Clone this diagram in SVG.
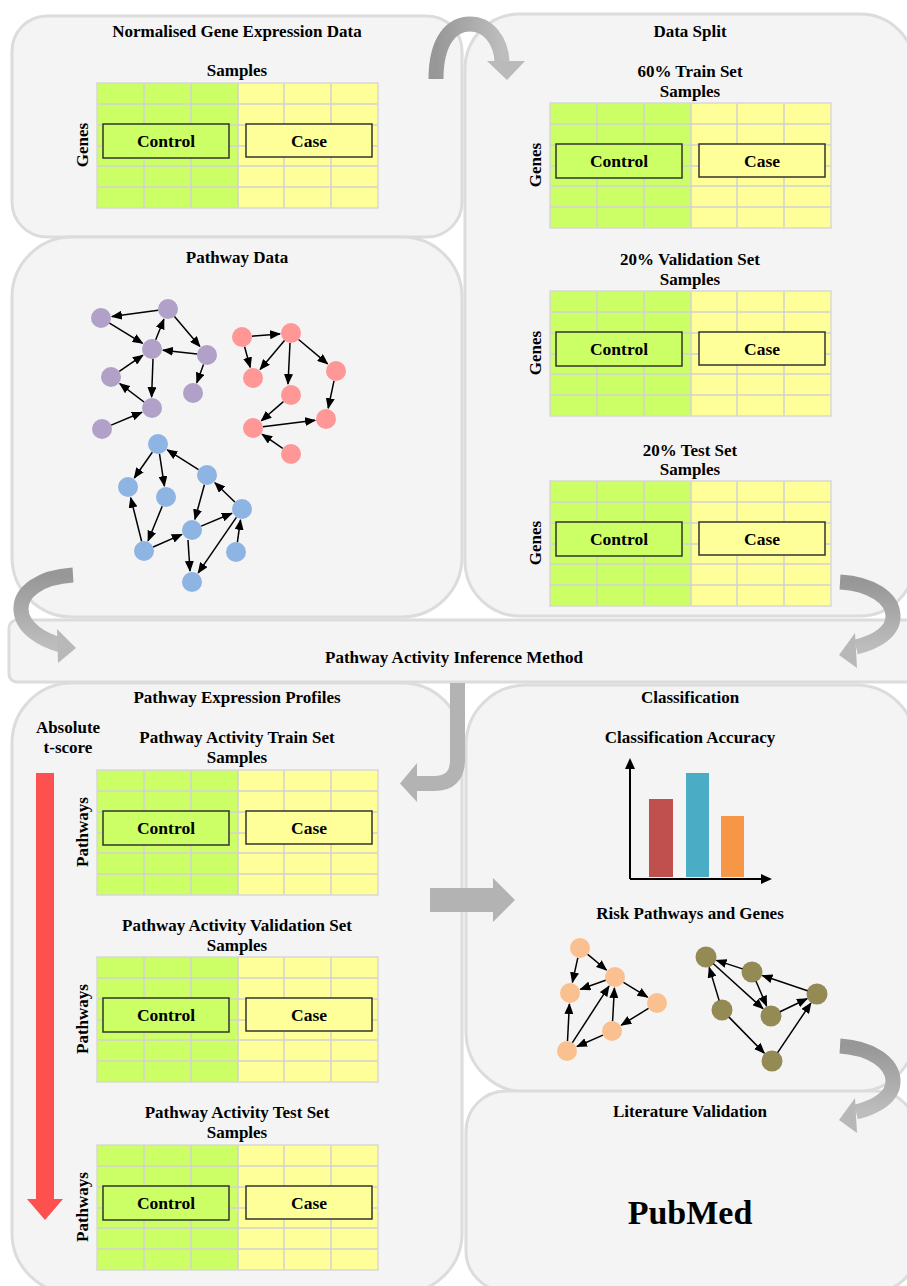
<svg xmlns="http://www.w3.org/2000/svg" xmlns:xlink="http://www.w3.org/1999/xlink" width="907" height="1286" viewBox="0 0 907 1286">
<style>
.panel{fill:#f4f4f4;stroke:#dcdcdc;stroke-width:3}
.t{font-family:"Liberation Serif",serif;font-weight:bold;font-size:17px;text-anchor:middle;fill:#000}
.b{font-family:"Liberation Serif",serif;font-weight:bold;font-size:17.5px;text-anchor:middle;fill:#000}
.e{stroke:#000;stroke-width:1.5;fill:none;marker-end:url(#ah)}
.pu{fill:#b1a0c7}.rd{fill:#ff9797}.bl{fill:#8db4e2}.or{fill:#fac090}.ol{fill:#948a54}
</style>
<defs>
<marker id="ah" markerUnits="userSpaceOnUse" markerWidth="11" markerHeight="9" refX="10" refY="4.5" orient="auto">
<path d="M0,0 L11,4.5 L0,9 z" fill="#000"/>
</marker>
<linearGradient id="gh" x1="0" y1="0" x2="1" y2="0"><stop offset="0" stop-color="#979797"/><stop offset="1" stop-color="#bdbdbd"/></linearGradient>
<linearGradient id="gv" x1="0" y1="0" x2="0" y2="1"><stop offset="0" stop-color="#979797"/><stop offset="1" stop-color="#bdbdbd"/></linearGradient>
<g id="grid">
<rect x="0" y="0" width="141" height="125" fill="#ccff66"/>
<rect x="141" y="0" width="140" height="125" fill="#ffff99"/>
<path d="M47,0V125M94,0V125M141,0V125M187,0V125M234,0V125M0,21H281M0,42H281M0,63H281M0,83H281M0,104H281" stroke="#d2d2d2" stroke-width="1.5" fill="none"/>
<rect x="0" y="0" width="281" height="125" fill="none" stroke="#d8d8d8" stroke-width="1.5"/>
<rect x="6" y="41" width="126" height="34" fill="#ccff66" stroke="#333" stroke-width="1.5"/>
<rect x="149" y="41" width="126" height="33" fill="#ffff99" stroke="#333" stroke-width="1.5"/>
</g>
</defs>
<rect width="907" height="1286" fill="#fff"/>

<g id="panel-data-split">
<rect class="panel" x="465" y="14" width="450" height="602" rx="55"/>
<text class="t" x="690" y="37">Data Split</text>
</g>
<g id="panel-normalised">
<rect class="panel" x="12" y="16" width="450" height="221" rx="35"/>
<text class="t" x="237" y="37">Normalised Gene Expression Data</text>
</g>
<g id="panel-pathway-data">
<rect class="panel" x="12" y="237" width="450" height="380" rx="60"/>
<text class="t" x="237" y="263">Pathway Data</text>
</g>
<g id="panel-inference">
<rect class="panel" x="9" y="620" width="910" height="62" rx="8"/>
<text class="t" x="454" y="663">Pathway Activity Inference Method</text>
</g>
<g id="panel-profiles">
<rect class="panel" x="12" y="683" width="450" height="610" rx="60"/>
<text class="t" x="237" y="703">Pathway Expression Profiles</text>
<text class="t" x="68" y="733">Absolute</text>
<text class="t" x="68" y="753">t-score</text>
</g>
<g id="panel-classification">
<rect class="panel" x="466" y="685" width="450" height="407" rx="60"/>
<text class="t" x="690" y="703">Classification</text>
<text class="t" x="690" y="743">Classification Accuracy</text>
<text class="t" x="690" y="919">Risk Pathways and Genes</text>
</g>
<g id="panel-literature">
<rect class="panel" x="466" y="1091" width="450" height="200" rx="40"/>
<text class="t" x="690" y="1117">Literature Validation</text>
<text x="690" y="1224" style="font-family:'Liberation Serif',serif;font-weight:bold;font-size:34px;text-anchor:middle">PubMed</text>
</g>

<g id="grid-normalised" transform="translate(97,83)">
<text class="t" x="140" y="-7">Samples</text>
<use href="#grid"/>
<text class="b" x="69" y="64">Control</text><text class="b" x="212" y="64">Case</text>
<text class="t" transform="translate(-9,62) rotate(-90)">Genes</text>
</g>
<g id="grid-train" transform="translate(550,103)">
<text class="t" x="140" y="-26">60% Train Set</text><text class="t" x="140" y="-6">Samples</text>
<use href="#grid"/>
<text class="b" x="69" y="64">Control</text><text class="b" x="212" y="64">Case</text>
<text class="t" transform="translate(-9,62) rotate(-90)">Genes</text>
</g>
<g id="grid-validation" transform="translate(550,291)">
<text class="t" x="140" y="-26">20% Validation Set</text><text class="t" x="140" y="-6">Samples</text>
<use href="#grid"/>
<text class="b" x="69" y="64">Control</text><text class="b" x="212" y="64">Case</text>
<text class="t" transform="translate(-9,62) rotate(-90)">Genes</text>
</g>
<g id="grid-test" transform="translate(550,481)">
<text class="t" x="140" y="-25">20% Test Set</text><text class="t" x="140" y="-6">Samples</text>
<use href="#grid"/>
<text class="b" x="69" y="64">Control</text><text class="b" x="212" y="64">Case</text>
<text class="t" transform="translate(-9,62) rotate(-90)">Genes</text>
</g>
<g id="grid-pa-train" transform="translate(97,770)">
<text class="t" x="140" y="-27">Pathway Activity Train Set</text><text class="t" x="140" y="-7">Samples</text>
<use href="#grid"/>
<text class="b" x="69" y="64">Control</text><text class="b" x="212" y="64">Case</text>
<text class="t" transform="translate(-9,62) rotate(-90)">Pathways</text>
</g>
<g id="grid-pa-validation" transform="translate(97,957)">
<text class="t" x="140" y="-26">Pathway Activity Validation Set</text><text class="t" x="140" y="-6">Samples</text>
<use href="#grid"/>
<text class="b" x="69" y="64">Control</text><text class="b" x="212" y="64">Case</text>
<text class="t" transform="translate(-9,62) rotate(-90)">Pathways</text>
</g>
<g id="grid-pa-test" transform="translate(97,1145)">
<text class="t" x="140" y="-27">Pathway Activity Test Set</text><text class="t" x="140" y="-7">Samples</text>
<use href="#grid"/>
<text class="b" x="69" y="64">Control</text><text class="b" x="212" y="64">Case</text>
<text class="t" transform="translate(-9,62) rotate(-90)">Pathways</text>
</g>

<g id="tscore-arrow">
<polygon points="36,773 54,773 54,1199 63,1199 45,1220 27,1199 36,1199" fill="#ff5050"/>
</g>

<g id="chart">
<rect x="649" y="799" width="24" height="78" fill="#c0504d"/>
<rect x="686" y="773" width="23" height="104" fill="#4bacc6"/>
<rect x="721" y="816" width="23" height="61" fill="#f79646"/>
<path d="M630,879 V768 M630,879 H762" stroke="#000" stroke-width="2" fill="none"/>
<polygon points="625,769 630,758 635,769" fill="#000"/>
<polygon points="761,874 772,879 761,884" fill="#000"/>
</g>

<g id="nodes-purple">
<circle class="pu" cx="101" cy="318" r="10"/><circle class="pu" cx="168" cy="309" r="10"/>
<circle class="pu" cx="152" cy="349" r="10"/><circle class="pu" cx="207" cy="355" r="10"/>
<circle class="pu" cx="111" cy="377" r="10"/><circle class="pu" cx="193" cy="393" r="10"/>
<circle class="pu" cx="152" cy="408" r="10"/><circle class="pu" cx="102" cy="429" r="10"/>
</g>
<g id="nodes-red">
<circle class="rd" cx="242" cy="337" r="10"/><circle class="rd" cx="291" cy="333" r="10"/>
<circle class="rd" cx="253" cy="378" r="10"/><circle class="rd" cx="336" cy="371" r="10"/>
<circle class="rd" cx="291" cy="395" r="10"/><circle class="rd" cx="326" cy="419" r="10"/>
<circle class="rd" cx="253" cy="428" r="10"/><circle class="rd" cx="291" cy="454" r="10"/>
</g>
<g id="nodes-blue">
<circle class="bl" cx="158" cy="444" r="10"/><circle class="bl" cx="128" cy="487" r="10"/>
<circle class="bl" cx="166" cy="497" r="10"/><circle class="bl" cx="207" cy="475" r="10"/>
<circle class="bl" cx="242" cy="509" r="10"/><circle class="bl" cx="192" cy="530" r="10"/>
<circle class="bl" cx="144" cy="551" r="10"/><circle class="bl" cx="236" cy="552" r="10"/>
<circle class="bl" cx="192" cy="582" r="10"/>
</g>
<g id="nodes-risk-orange">
<circle class="or" cx="580" cy="948" r="10"/><circle class="or" cx="570" cy="993" r="10"/>
<circle class="or" cx="615" cy="977" r="10"/><circle class="or" cx="657" cy="1003" r="10"/>
<circle class="or" cx="612" cy="1031" r="10"/><circle class="or" cx="567" cy="1051" r="10"/>
</g>
<g id="nodes-risk-olive">
<circle class="ol" cx="706" cy="957" r="10.5"/><circle class="ol" cx="752" cy="972" r="10.5"/>
<circle class="ol" cx="771" cy="1016" r="10.5"/><circle class="ol" cx="817" cy="994" r="10.5"/>
<circle class="ol" cx="722" cy="1010" r="10.5"/><circle class="ol" cx="772" cy="1061" r="10.5"/>
</g>

<g id="connectors">
<path class="e" d="M158.1,310.3L111.9,316.5"/>
<path class="e" d="M109.5,323.2L142.6,343.3"/>
<path class="e" d="M155.7,339.7L163.9,319.2"/>
<path class="e" d="M174.5,316.6L199.9,346.6"/>
<path class="e" d="M197.1,353.9L162.9,350.2"/>
<path class="e" d="M203.5,364.4L196.8,382.7"/>
<path class="e" d="M153,359L151.6,397"/>
<path class="e" d="M144,402L119.8,383.6"/>
<path class="e" d="M119.3,371.4L142.9,355.2"/>
<path class="e" d="M111.2,425.1L141.9,412.3"/>

<path class="e" d="M252,336.2L280,333.9"/>
<path class="e" d="M244.6,346.7L250.2,367.4"/>
<path class="e" d="M284.5,340.6L260.1,369.6"/>
<path class="e" d="M290,343L288,384"/>
<path class="e" d="M298.6,339.5L327.6,363.9"/>
<path class="e" d="M334,380.8L328.2,408.2"/>
<path class="e" d="M283.4,401.6L261.3,420.8"/>
<path class="e" d="M262.9,426.8L315.1,420.3"/>
<path class="e" d="M282.7,448.3L262.1,434.2"/>

<path class="e" d="M152.3,452.2L134.3,478"/>
<path class="e" d="M159.5,453.9L164.4,486.1"/>
<path class="e" d="M198.5,469.7L167.3,449.9"/>
<path class="e" d="M162.2,506.3L148.1,540.8"/>
<path class="e" d="M141.6,541.3L130.7,497.7"/>
<path class="e" d="M204.4,484.7L194.9,519.4"/>
<path class="e" d="M201.2,526.1L231.9,513.3"/>
<path class="e" d="M234.8,502L214.9,482.7"/>
<path class="e" d="M153.2,547L181.9,534.4"/>
<path class="e" d="M188,540L190,571"/>
<path class="e" d="M236.4,517.3L198.2,572.9"/>
<path class="e" d="M237.4,542.1L240.5,519.9"/>

<path class="e" d="M577.8,957.8L572.4,982.3"/>
<path class="e" d="M587.7,954.4L606.5,970"/>
<path class="e" d="M605.6,980.3L580.4,989.3"/>
<path class="e" d="M623.5,982.3L647.6,997.2"/>
<path class="e" d="M648.5,1008.3L621.3,1025.2"/>
<path class="e" d="M612.6,1021L614.4,988"/>
<path class="e" d="M567.5,1041L569.4,1004"/>
<path class="e" d="M572.4,1042.6L609,986.2"/>
<path class="e" d="M602.9,1035.1L577,1046.5"/>

<path class="e" d="M742.5,968.9L716.5,960.4"/>
<path class="e" d="M713.4,963.7L762.9,1008.6"/>
<path class="e" d="M756,981.2L766.6,1005.9"/>
<path class="e" d="M807.5,990.8L762.4,975.5"/>
<path class="e" d="M780,1011.7L807.1,998.7"/>
<path class="e" d="M719.1,1000.4L709.2,967.5"/>
<path class="e" d="M729,1017.1L764.3,1053.1"/>
<path class="e" d="M777.6,1052.7L810.9,1003.1"/>

<path d="M436,79 C436,40 452,24 470,24 C488,24 501,40 502,62" stroke="url(#gh)" stroke-width="15" fill="none"/>
<polygon points="487,61 525,61 507,80" fill="#bababa"/>

<path d="M73,575 C40,577 20,592 21,610 C22,628 42,640 61,645" stroke="url(#gv)" stroke-width="15" fill="none"/>
<polygon points="57,629 76,648 58,663" fill="#b8b8b8"/>

<path d="M840,582 C872,584 892,598 893,615 C894,632 876,642 856,647" stroke="url(#gv)" stroke-width="15" fill="none"/>
<polygon points="855,633 839,655 857,668" fill="#b8b8b8"/>

<path d="M840,1046 C872,1048 892,1063 893,1080 C894,1097 876,1107 856,1112" stroke="url(#gv)" stroke-width="15" fill="none"/>
<polygon points="855,1098 839,1120 857,1133" fill="#b8b8b8"/>

<path d="M457.5,683 L457.5,760 Q457.5,783.5 434,783.5 L415,783.5" stroke="#b3b3b3" stroke-width="15" fill="none"/>
<polygon points="417,763 400,783.5 417,802" fill="#b3b3b3"/>

<polygon points="430,888 493,888 493,878 515,900 493,922 493,912 430,912" fill="#b3b3b3"/>
</g>
</svg>
